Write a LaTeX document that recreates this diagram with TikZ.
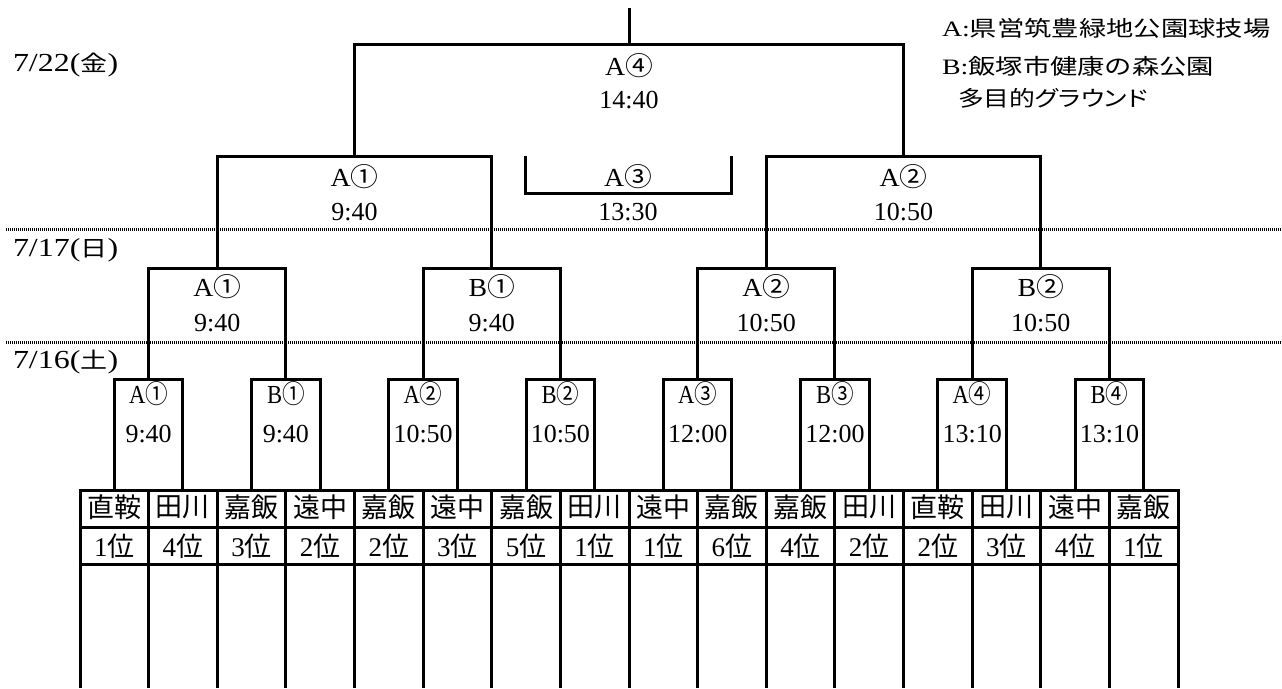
\documentclass[tikz,border=0pt]{standalone}
\usepackage{fontspec}
\usepackage{graphicx}
\setmainfont{Liberation Serif}
\newfontfamily\cjk{Noto Sans CJK JP}
\newfontfamily\cjkp[RawFeature=+palt]{Noto Sans CJK JP}
\newcommand\tmtxt[1]{{\fontsize{26}{26}\selectfont #1}}
\newcommand\lbtxt[3]{\scalebox{#1}[1]{\fontsize{26}{26}\selectfont #2{\cjk\fontsize{26}{26}\selectfont #3}}}
\newcommand\daytxt[2]{\scalebox{1.23}[1]{\fontsize{26}{26}\selectfont #1({\cjk\fontsize{22}{22}\selectfont #2})}}
\newcommand\legtxt[2]{\scalebox{1.27}[1]{\fontsize{22}{22}\selectfont #1{\cjk\fontsize{21.5}{21.5}\selectfont #2}}}
\begin{document}
\begin{tikzpicture}[x=1pt,y=-1pt,
  every node/.style={inner sep=0pt,outer sep=0pt},
  br/.style={line width=3pt,line join=miter},
  gridline/.style={line width=3pt},
  dotl/.style={line width=3pt,dash pattern=on 1.2pt off 0.8pt},
  team/.style={font={\cjk\fontsize{27}{27}\selectfont}},
  rank/.style={font={\fontsize{27}{27}\selectfont}},
  leg/.style={anchor=west}]
\useasboundingbox (0,0) rectangle (1282,688);

% day separators
\coordinate (d1a) at (6,229.5); \coordinate (d1b) at (1282,229.5);
\coordinate (d2a) at (6,342);   \coordinate (d2b) at (1282,342);
\draw[dotl] (d1a) -- (d1b);
\draw[dotl] (d2a) -- (d2b);

% day labels
\node[anchor=west] (day22) at (13,65)  {\daytxt{7/22}{金}};
\node[anchor=west] (day17) at (13,250) {\daytxt{7/17}{日}};
\node[anchor=west] (day16) at (13,362) {\daytxt{7/16}{土}};

% legend
\node[leg] (legA) at (942,28) {\legtxt{A:}{県営筑豊緑地公園球技場}};
\node[leg] (legB) at (942,66) {\legtxt{B:}{飯塚市健康の森公園}};
\node[leg] (legC) at (958,98) {\scalebox{1.2}[1]{\fontsize{21.5}{21.5}\selectfont{\cjk 多目的}{\cjkp グラウンド}}};

% table
\foreach \i in {0,...,16} {
  \coordinate (ga\i) at ({80+\i*68.625},490);
  \coordinate (gb\i) at ({80+\i*68.625},688);
  \draw[gridline] (ga\i) -- (gb\i);
}
\foreach \y [count=\j] in {490,527,564} {
  \coordinate (ha\j) at (78.5,\y); \coordinate (hb\j) at (1179.5,\y);
  \draw[gridline] (ha\j) -- (hb\j);
}
\foreach \n [count=\i] in {直鞍,田川,嘉飯,遠中,嘉飯,遠中,嘉飯,田川,遠中,嘉飯,嘉飯,田川,直鞍,田川,遠中,嘉飯} {
  \node[team] (t\i) at ({80+(\i-0.5)*68.625},507.5) {\n};
  \coordinate (top\i) at ({80+(\i-0.5)*68.625},490);
}
\foreach \r [count=\i] in {1,4,3,2,2,3,5,1,1,6,4,2,2,3,4,1} {
  \node[rank] (r\i) at ({80+(\i-0.5)*68.625},546) {\r{\cjk 位}};
}

% first round
\foreach \v/\c/\t [count=\k] in {A/①/9:40,B/①/9:40,A/②/10:50,B/②/10:50,A/③/12:00,B/③/12:00,A/④/13:10,B/④/13:10} {
  \pgfmathsetmacro\M{80+(2*\k-1)*68.625}
  \pgfmathtruncatemacro\a{2*\k-1}
  \pgfmathtruncatemacro\b{2*\k}
  \coordinate (f\k) at (\M,379);
  \draw[br] (top\a) |- (f\k) -| (top\b);
  \node (fl\k) at (\M,394) {\lbtxt{0.87}{\v}{\c}};
  \node (ft\k) at (\M,434) {\tmtxt{\t}};
}

% second round
\foreach \v/\c/\t [count=\k] in {A/①/9:40,B/①/9:40,A/②/10:50,B/②/10:50} {
  \pgfmathsetmacro\M{80+(4*\k-2)*68.625}
  \pgfmathtruncatemacro\a{2*\k-1}
  \pgfmathtruncatemacro\b{2*\k}
  \coordinate (q\k) at (\M,268);
  \draw[br] (f\a) |- (q\k) -| (f\b);
  \node (ql\k) at (\M,287) {\lbtxt{1.07}{\v}{\c}};
  \node (qt\k) at (\M,323) {\tmtxt{\t}};
}

% semifinals
\foreach \v/\c/\t [count=\k] in {A/①/9:40,A/②/10:50} {
  \pgfmathsetmacro\M{80+(8*\k-4)*68.625}
  \pgfmathtruncatemacro\a{2*\k-1}
  \pgfmathtruncatemacro\b{2*\k}
  \coordinate (s\k) at (\M,156);
  \draw[br] (q\a) |- (s\k) -| (q\b);
  \node (sl\k) at (\M,177) {\lbtxt{1.07}{\v}{\c}};
  \node (st\k) at (\M,212) {\tmtxt{\t}};
}

% final
\coordinate (fin) at (629,44);
\coordinate (tail) at (629,8);
\draw[br] (s1) |- (fin) -| (s2);
\draw[br] (fin) -- (tail);
\node (finl) at (629,66) {\lbtxt{1.07}{A}{④}};
\node (fint) at (629,100) {\tmtxt{14:40}};

% third place
\coordinate (u1) at (525,156);
\coordinate (u2) at (731,156);
\coordinate (um) at (628,193);
\draw[br] (u1) |- (um) -| (u2);
\node (thl) at (628,177) {\lbtxt{1.07}{A}{③}};
\node (tht) at (628,212) {\tmtxt{13:30}};
\end{tikzpicture}
\end{document}
